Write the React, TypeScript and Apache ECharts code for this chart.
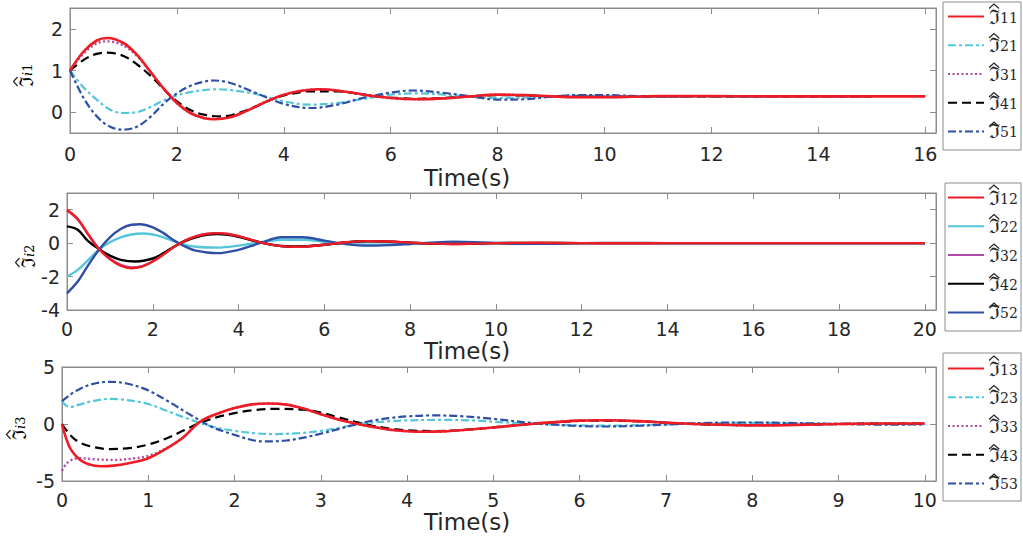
import React, { useEffect, useRef } from 'react';
import * as echarts from 'echarts';

type P = [number, number][];

// ---------- Panel 1 (t: 0-16) ----------
const p1x11: P = [[0,1],[0.25,1.45],[0.5,1.72],[0.7,1.78],[1,1.66],[1.25,1.38],[1.5,0.98],[1.75,0.57],[2,0.22],[2.25,-0.02],[2.5,-0.14],[2.7,-0.17],[3,-0.12],[3.25,0],[3.5,0.15],[3.75,0.3],[4,0.42],[4.3,0.51],[4.65,0.55],[5,0.52],[5.5,0.42],[6,0.34],[6.5,0.31],[7,0.33],[7.5,0.38],[8,0.42],[8.5,0.41],[9,0.38],[9.5,0.36],[10,0.36],[10.5,0.37],[11,0.385],[12,0.385],[13,0.38],[14,0.38],[15,0.38],[16,0.38]];
const p1x21: P = [[0,1],[0.25,0.6],[0.5,0.3],[0.75,0.06],[1,-0.02],[1.25,0],[1.5,0.12],[1.75,0.28],[2,0.4],[2.25,0.48],[2.5,0.53],[2.75,0.55],[3,0.53],[3.5,0.43],[4,0.26],[4.5,0.18],[5,0.22],[5.5,0.32],[6,0.42],[6.5,0.45],[7,0.42],[7.5,0.37],[8,0.34],[8.5,0.35],[9,0.38],[9.5,0.4],[10,0.39],[11,0.38],[12,0.38],[13,0.38],[14,0.38],[15,0.38]];
const p1x31: P = [[0,1],[0.25,1.4],[0.5,1.65],[0.7,1.7],[1,1.6],[1.25,1.35],[1.5,0.97],[1.75,0.57],[2,0.22],[2.25,-0.02],[2.5,-0.14],[2.7,-0.16],[3,-0.11],[3.25,0],[3.5,0.15],[3.75,0.3],[4,0.42],[4.3,0.51],[4.65,0.55],[5,0.52],[5.5,0.42],[6,0.34],[6.5,0.31],[7,0.33],[7.5,0.38],[8,0.42],[8.5,0.41],[9,0.38],[9.5,0.36],[10,0.36],[11,0.38],[12,0.385],[13,0.38],[14,0.38],[15,0.38]];
const p1x41: P = [[0,1],[0.25,1.25],[0.5,1.4],[0.7,1.43],[1,1.35],[1.25,1.15],[1.5,0.88],[1.75,0.56],[2,0.26],[2.25,0.05],[2.5,-0.06],[2.8,-0.1],[3,-0.08],[3.25,0.02],[3.5,0.15],[3.75,0.29],[4,0.4],[4.5,0.5],[5,0.5],[5.5,0.42],[6,0.35],[6.5,0.32],[7,0.34],[7.5,0.38],[8,0.41],[8.5,0.4],[9,0.38],[10,0.37],[11,0.38],[12,0.38],[13,0.38],[14,0.38],[15,0.38]];
const p1x51: P = [[0,1],[0.25,0.35],[0.5,-0.1],[0.75,-0.35],[1,-0.42],[1.25,-0.35],[1.5,-0.12],[1.75,0.2],[2,0.45],[2.25,0.63],[2.5,0.73],[2.7,0.76],[3,0.7],[3.5,0.45],[4,0.2],[4.5,0.1],[5,0.18],[5.5,0.35],[6,0.47],[6.4,0.52],[7,0.46],[7.5,0.38],[8,0.3],[8.5,0.31],[9,0.37],[9.5,0.41],[10,0.41],[10.5,0.39],[11,0.37],[12,0.38],[13,0.38],[14,0.38],[15,0.38]];
const p1XTicks = [0, 2, 4, 6, 8, 10, 12, 14, 16];
const p1YTicks = [0, 1, 2];

// ---------- Panel 2 (t: 0-20) ----------
const p2x12: P = [[0,2],[0.25,1.45],[0.5,0.5],[0.75,-0.36],[1,-0.95],[1.25,-1.35],[1.5,-1.5],[1.75,-1.4],[2,-1.1],[2.25,-0.68],[2.5,-0.22],[2.75,0.15],[3,0.4],[3.25,0.55],[3.5,0.6],[3.75,0.55],[4,0.42],[4.5,0.05],[5,-0.18],[5.4,-0.22],[6,-0.1],[6.5,0.05],[7,0.12],[7.5,0.1],[8,0.03],[8.5,-0.03],[9,-0.05],[9.5,-0.03],[10,0],[11,0.02],[12,0],[13,-0.01],[14,0],[16,0],[18,0],[20,0]];
const p2x22: P = [[0,-2],[0.25,-1.6],[0.5,-1],[0.75,-0.38],[1,0.05],[1.25,0.35],[1.5,0.52],[1.75,0.58],[2,0.52],[2.25,0.35],[2.5,0.1],[2.75,-0.1],[3,-0.22],[3.5,-0.27],[4,-0.15],[4.5,0.05],[5,0.2],[5.5,0.2],[6,0.08],[6.5,-0.05],[7,-0.1],[7.5,-0.08],[8,-0.02],[8.5,0.03],[9,0.05],[10,0.02],[11,-0.01],[12,0],[14,0],[16,0],[18,0],[20,0]];
const p2x32: P = [[0,1.95],[0.25,1.42],[0.5,0.5],[0.75,-0.36],[1,-0.93],[1.25,-1.3],[1.5,-1.45],[1.75,-1.37],[2,-1.08],[2.25,-0.67],[2.5,-0.22],[2.75,0.15],[3,0.4],[3.25,0.55],[3.5,0.6],[3.75,0.55],[4,0.42],[4.5,0.05],[5,-0.18],[5.4,-0.22],[6,-0.1],[6.5,0.05],[7,0.12],[7.5,0.1],[8,0.03],[8.5,-0.03],[9,-0.05],[10,0],[12,0],[14,0],[16,0],[18,0],[20,0]];
const p2x42: P = [[0,1],[0.25,0.8],[0.5,0.1],[0.75,-0.36],[1,-0.75],[1.25,-1],[1.6,-1.1],[2,-0.92],[2.25,-0.6],[2.5,-0.2],[2.75,0.12],[3,0.35],[3.25,0.5],[3.5,0.55],[3.75,0.5],[4,0.38],[4.5,0.05],[5,-0.17],[5.4,-0.2],[6,-0.1],[6.5,0.04],[7,0.11],[7.5,0.09],[8,0.03],[8.5,-0.03],[9,-0.04],[10,0],[11,0.01],[12,0],[14,0],[16,0],[18,0],[20,0]];
const p2x52: P = [[0,-3],[0.25,-2.3],[0.5,-1.3],[0.75,-0.38],[1,0.35],[1.25,0.85],[1.5,1.1],[1.7,1.13],[2,0.95],[2.25,0.6],[2.5,0.15],[2.75,-0.2],[3,-0.45],[3.5,-0.6],[4,-0.4],[4.5,0],[5,0.35],[5.5,0.35],[6,0.15],[6.5,-0.05],[7,-0.15],[7.5,-0.12],[8,-0.05],[8.5,0.03],[9,0.08],[9.5,0.06],[10,0],[10.5,-0.04],[11,-0.04],[12,0],[13,0.01],[14,0],[16,0],[18,0],[20,0]];
const p2XTicks = [0, 2, 4, 6, 8, 10, 12, 14, 16, 18, 20];
const p2YTicks = [-4, -2, 0, 2];

// ---------- Panel 3 (t: 0-10) ----------
const p3x13: P = [[0,0],[0.05,-1.3],[0.1,-2.2],[0.2,-3.1],[0.3,-3.5],[0.45,-3.7],[0.6,-3.65],[0.8,-3.4],[1,-3],[1.2,-2.2],[1.4,-1.2],[1.6,0.2],[1.8,0.9],[2,1.4],[2.2,1.72],[2.4,1.8],[2.6,1.7],[2.8,1.35],[3,0.85],[3.2,0.4],[3.4,0.05],[3.6,-0.25],[3.8,-0.5],[4,-0.63],[4.2,-0.68],[4.4,-0.65],[4.7,-0.5],[5,-0.3],[5.5,0.05],[6,0.3],[6.3,0.33],[6.7,0.25],[7,0.12],[7.5,-0.05],[8,-0.12],[8.5,-0.08],[9,0],[9.5,0.05],[10,0.05]];
const p3x23: P = [[0,2],[0.05,1.6],[0.1,1.5],[0.2,1.7],[0.35,2],[0.55,2.2],[0.75,2.1],[1,1.75],[1.25,1.05],[1.5,0.35],[1.75,-0.25],[2,-0.6],[2.25,-0.82],[2.45,-0.88],[2.75,-0.8],[3,-0.6],[3.2,-0.35],[3.4,-0.05],[3.6,0.12],[3.8,0.25],[4,0.32],[4.4,0.36],[4.8,0.3],[5,0.2],[5.5,0],[6,-0.12],[6.3,-0.15],[6.7,-0.1],[7,-0.03],[7.5,0.07],[8,0.1],[8.5,0.07],[9,0.02],[9.5,-0.02],[10,-0.02]];
const p3x33: P = [[0,-4.1],[0.05,-3.5],[0.1,-3.2],[0.2,-3],[0.4,-3.1],[0.6,-3.15],[0.8,-3.05],[1,-2.8],[1.2,-2.15],[1.4,-1.2],[1.6,0.2],[1.8,0.9],[2,1.4],[2.2,1.72],[2.4,1.8],[2.6,1.7],[2.8,1.35],[3,0.85],[3.2,0.4],[3.4,0.05],[3.6,-0.25],[3.8,-0.5],[4,-0.63],[4.2,-0.68],[4.4,-0.65],[4.7,-0.5],[5,-0.3],[5.5,0.05],[6,0.3],[6.3,0.33],[6.7,0.25],[7,0.12],[7.5,-0.05],[8,-0.12],[8.5,-0.08],[9,0],[9.5,0.05],[10,0.05]];
const p3x43: P = [[0,0],[0.1,-1],[0.2,-1.6],[0.35,-2],[0.55,-2.2],[0.8,-2.1],[1,-1.8],[1.2,-1.3],[1.4,-0.6],[1.6,0.1],[1.8,0.6],[2,0.95],[2.2,1.2],[2.5,1.33],[2.8,1.25],[3,1],[3.2,0.6],[3.4,0.2],[3.6,-0.15],[3.8,-0.4],[4,-0.55],[4.3,-0.62],[4.6,-0.55],[5,-0.3],[5.5,0.04],[6,0.27],[6.3,0.3],[6.7,0.23],[7,0.11],[7.5,-0.05],[8,-0.1],[8.5,-0.07],[9,0],[9.5,0.04],[10,0.04]];
const p3x53: P = [[0,2],[0.1,2.6],[0.2,3.05],[0.35,3.5],[0.55,3.7],[0.75,3.55],[1,2.95],[1.25,1.9],[1.5,0.75],[1.75,-0.3],[2,-0.95],[2.2,-1.4],[2.35,-1.53],[2.6,-1.45],[2.8,-1.2],[3,-0.85],[3.2,-0.45],[3.4,-0.05],[3.6,0.3],[3.8,0.52],[4,0.67],[4.3,0.75],[4.6,0.7],[5,0.45],[5.5,0.05],[6,-0.18],[6.3,-0.22],[6.7,-0.15],[7,-0.05],[7.5,0.1],[8,0.13],[8.5,0.08],[9,0],[9.5,-0.05],[10,-0.04]];
const p3XTicks = [0, 1, 2, 3, 4, 5, 6, 7, 8, 9, 10];
const p3YTicks = [-5, 0, 5];

const FRAK = '\u2111';
const RED = '#ee1c25';
const CYAN = '#55c6da';
const MAG = '#b04aa8';
const BLACK = '#000000';
const BLUE = '#2f4ea6';
const AXC = '#8c8c8c';
const TXT = '#262626';
const FONT = '"DejaVu Sans", sans-serif';
const SERIF = '"DejaVu Serif", serif';

const richLegend = {
  a: { fontFamily: SERIF, fontSize: 20, color: TXT, lineHeight: 16 },
  b: { fontFamily: SERIF, fontSize: 14, color: TXT, lineHeight: 12, verticalAlign: 'bottom' as const },
};
const richName = {
  a: { fontFamily: SERIF, fontSize: 19, color: TXT, lineHeight: 16 },
  b: { fontFamily: SERIF, fontSize: 13, color: TXT, lineHeight: 12, verticalAlign: 'bottom' as const },
  i: { fontFamily: SERIF, fontSize: 13, fontStyle: 'italic' as const, color: TXT, lineHeight: 12, verticalAlign: 'bottom' as const },
};

const LEG_STEP = 29.5;
const LEG_ITEM_H = 20.8;

export default function App() {
  const ref = useRef<HTMLDivElement>(null);
  useEffect(() => {
    if (!ref.current) return;
    const chart = echarts.init(ref.current, undefined, { renderer: 'svg' });

    const panels = [
      { left: 70, top: 8, width: 866, height: 125, xmax: 16.2, ymin: -0.5, ymax: 2.5, xt: p1XTicks, yt: p1YTicks, idx: '1',
        data: [p1x11, p1x21, p1x31, p1x41, p1x51], solid: false, firstItem: 17, timeTop: 166, margin: 11, nameX: 26, nameY: 87 },
      { left: 67, top: 193, width: 869, height: 117, xmax: 20.26, ymin: -4, ymax: 3, xt: p2XTicks, yt: p2YTicks, idx: '2',
        data: [p2x12, p2x22, p2x32, p2x42, p2x52], solid: true, firstItem: 198, timeTop: 339, margin: 9, nameX: 28, nameY: 268 },
      { left: 62, top: 367, width: 874, height: 114, xmax: 10.13, ymin: -5, ymax: 5, xt: p3XTicks, yt: p3YTicks, idx: '3',
        data: [p3x13, p3x23, p3x33, p3x43, p3x53], solid: false, firstItem: 369, timeTop: 510, margin: 9, nameX: 19, nameY: 440 },
    ];

    const grid: any[] = [];
    const xAxis: any[] = [];
    const yAxis: any[] = [];
    const series: any[] = [];
    const legend: any[] = [];
    const graphic: any[] = [];

    const colors = [RED, CYAN, MAG, BLACK, BLUE];
    const dashes: any[] = ['solid', [8, 3, 3, 3], [2, 2.5], [9, 5], [8, 3, 3, 3]];
    const widths = [2.6, 2.2, 2.4, 2.2, 2.2];
    const drawOrder = [1, 2, 3, 4, 0];
    const hatStyle = { stroke: TXT, lineWidth: 1.2, fill: null as any };

    panels.forEach((p, g) => {
      grid.push({ left: p.left, top: p.top, width: p.width, height: p.height, show: true, borderColor: AXC, borderWidth: 1, backgroundColor: '#fff' });
      const axLine = { show: true, onZero: false, lineStyle: { color: AXC } };
      const common = { min: 0, max: p.xmax, gridIndex: g, splitLine: { show: false }, axisLine: axLine };
      xAxis.push({ ...common, type: 'value', position: 'bottom',
        axisTick: { show: true, inside: true, length: 6, lineStyle: { color: AXC }, customValues: p.xt },
        axisLabel: { show: true, customValues: p.xt, color: TXT, fontSize: 19, fontFamily: FONT, margin: p.margin } });
      xAxis.push({ ...common, type: 'value', position: 'top',
        axisTick: { show: true, inside: true, length: 6, lineStyle: { color: AXC }, customValues: p.xt },
        axisLabel: { show: false } });
      const ycommon = { type: 'value', min: p.ymin, max: p.ymax, gridIndex: g, splitLine: { show: false }, axisLine: axLine };
      yAxis.push({ ...ycommon, position: 'left',
        axisTick: { show: true, inside: true, length: 6, lineStyle: { color: AXC }, customValues: p.yt },
        axisLabel: { show: true, customValues: p.yt, color: TXT, fontSize: 19, fontFamily: FONT, margin: 7 } });
      yAxis.push({ ...ycommon, position: 'right',
        axisTick: { show: true, inside: true, length: 6, lineStyle: { color: AXC }, customValues: p.yt },
        axisLabel: { show: false } });

      const names = [0, 1, 2, 3, 4].map((k) => `${FRAK}${k + 1}${p.idx}`);
      drawOrder.forEach((k) => {
        series.push({
          type: 'line', name: names[k], xAxisIndex: g * 2, yAxisIndex: g * 2, data: p.data[k],
          smooth: 0.35, symbol: 'none', showSymbol: false, clip: true,
          lineStyle: { color: colors[k], width: p.solid ? 2.4 : widths[k], type: p.solid ? 'solid' : dashes[k] },
          itemStyle: { color: colors[k] }, z: k === 0 ? 5 : 3,
        });
      });
      legend.push({
        data: names, orient: 'vertical', left: 947, top: p.firstItem - LEG_ITEM_H / 2, padding: 0, itemGap: LEG_STEP - LEG_ITEM_H,
        itemWidth: 36, itemHeight: 14, selectedMode: false,
        itemStyle: { opacity: 0 },
        formatter: (n: string) => `{a|${FRAK}}{b|${n.slice(1)}}`,
        textStyle: { rich: richLegend },
      });
      // hats over the legend symbols
      for (let k = 0; k < 5; k++) {
        const c = p.firstItem + k * LEG_STEP;
        graphic.push({ type: 'polyline', shape: { points: [[989, c - 8.5], [994, c - 13], [999, c - 8.5]] }, style: hatStyle, z: 10 });
      }
      // y-axis name (rotated), with hat
      graphic.push({
        type: 'group', x: p.nameX, y: p.nameY, rotation: Math.PI / 2,
        children: [
          { type: 'text', x: 0, y: 0, style: { text: `{a|${FRAK}}{i|i}{b|${p.idx}}`, rich: richName, align: 'left', verticalAlign: 'middle' } },
          { type: 'polyline', shape: { points: [[1, -8.5], [5.5, -12.5], [10, -8.5]] }, style: hatStyle },
        ],
      });
      graphic.push({
        type: 'text', left: 424, top: p.timeTop,
        style: { text: 'Time(s)', fontSize: 23, fontFamily: FONT, fill: TXT },
      });
    });

    graphic.push({ type: 'rect', shape: { x: 943, y: 2, width: 78, height: 148 }, style: { fill: 'none', stroke: AXC, lineWidth: 1 }, z: -1 });
    graphic.push({ type: 'rect', shape: { x: 945, y: 183, width: 76, height: 148 }, style: { fill: 'none', stroke: AXC, lineWidth: 1 }, z: -1 });
    graphic.push({ type: 'rect', shape: { x: 943, y: 353, width: 78, height: 148 }, style: { fill: 'none', stroke: AXC, lineWidth: 1 }, z: -1 });

    chart.setOption({ animation: false, backgroundColor: '#fff', grid, xAxis, yAxis, series, legend, graphic });
    return () => chart.dispose();
  }, []);
  return <div ref={ref} style={{ width: 1023, height: 540, position: 'absolute', left: 0, top: 0 }} />;
}
